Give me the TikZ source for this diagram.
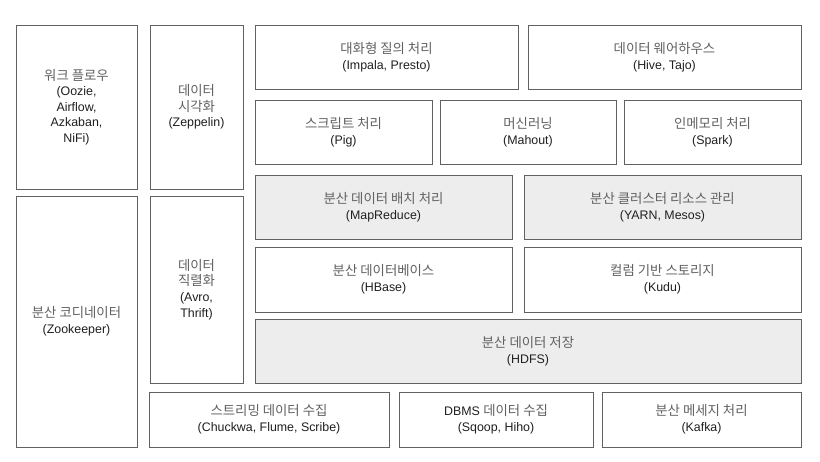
\documentclass[tikz,border=0pt]{standalone}
\usepackage{fontspec}
\setmainfont{Liberation Sans}
\newfontfamily\kr[Scale=1.08]{Noto Sans CJK KR}
\usepackage{tikz}
\newcommand{\ko}[1]{{\kr\color{black!62}#1}}

\begin{document}
\begin{tikzpicture}
[x=1pt,y=-1pt,%
  box/.style={shape=rectangle,draw=black!62,line width=0.9pt,fill=white,
    inner sep=0pt,outer sep=0pt,align=center,text=black!88,
    font=\fontsize{12.4}{15.6}\selectfont},%
  graybox/.style={box,fill=black!7}]
\useasboundingbox (0,0) rectangle (820,461);
% left columns
\node[box,minimum width=121pt,minimum height=164pt] (workflow) at (76.5,107)
  {\ko{워크 플로우}\\(Oozie,\\Airflow,\\Azkaban,\\NiFi)};
\node[box,minimum width=93pt,minimum height=164pt] (viz) at (196.5,107)
  {\ko{데이터}\\\ko{시각화}\\(Zeppelin)};
\node[box,minimum width=121pt,minimum height=251pt] (coord) at (76.5,321.5)
  {\ko{분산 코디네이터}\\(Zookeeper)};
\node[box,minimum width=93pt,minimum height=187pt] (serial) at (196.5,289.5)
  {\ko{데이터}\\\ko{직렬화}\\(Avro,\\Thrift)};
% upper layers
\node[box,minimum width=263pt,minimum height=64pt] (query) at (386.5,57)
  {\ko{대화형 질의 처리}\\(Impala, Presto)};
\node[box,minimum width=273pt,minimum height=64pt] (warehouse) at (664.5,57)
  {\ko{데이터 웨어하우스}\\(Hive, Tajo)};
\node[box,minimum width=177pt,minimum height=64pt] (script) at (343.5,132)
  {\ko{스크립트 처리}\\(Pig)};
\node[box,minimum width=176pt,minimum height=64pt] (ml) at (528,132)
  {\ko{머신러닝}\\(Mahout)};
\node[box,minimum width=177pt,minimum height=64pt] (inmem) at (712.5,132)
  {\ko{인메모리 처리}\\(Spark)};
% core
\node[graybox,minimum width=257pt,minimum height=64pt] (batch) at (383.5,207)
  {\ko{분산 데이터 배치 처리}\\(MapReduce)};
\node[graybox,minimum width=277pt,minimum height=64pt] (yarn) at (662.5,207)
  {\ko{분산 클러스터 리소스 관리}\\(YARN, Mesos)};
\node[box,minimum width=257pt,minimum height=65pt] (hbase) at (383.5,279.5)
  {\ko{분산 데이터베이스}\\(HBase)};
\node[box,minimum width=277pt,minimum height=65pt] (kudu) at (662.5,279.5)
  {\ko{컬럼 기반 스토리지}\\(Kudu)};
\node[graybox,minimum width=546pt,minimum height=64pt] (hdfs) at (528,351)
  {\ko{분산 데이터 저장}\\(HDFS)};
% collection
\node[box,minimum width=240pt,minimum height=55pt] (stream) at (269,419.5)
  {\ko{스트리밍 데이터 수집}\\(Chuckwa, Flume, Scribe)};
\node[box,minimum width=194pt,minimum height=55pt] (dbms) at (496,419.5)
  {DBMS \ko{데이터 수집}\\(Sqoop, Hiho)};
\node[box,minimum width=199pt,minimum height=55pt] (kafka) at (701.5,419.5)
  {\ko{분산 메세지 처리}\\(Kafka)};
\end{tikzpicture}
\end{document}
